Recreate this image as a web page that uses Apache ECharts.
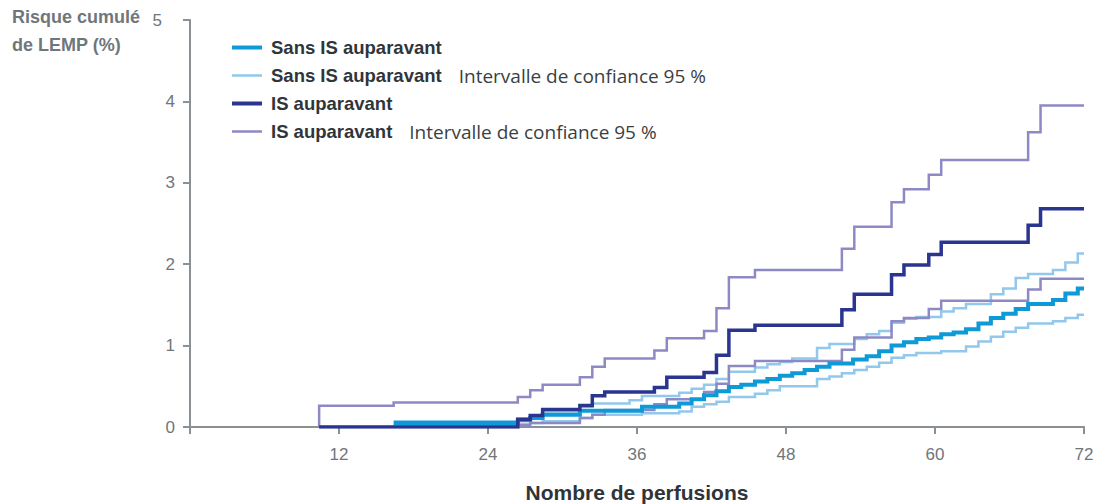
<!DOCTYPE html>
<html>
<head>
<meta charset="utf-8">
<script src="https://cdn.jsdelivr.net/npm/echarts@6/dist/echarts.min.js"></script>
<style>
html,body{margin:0;padding:0;background:#fff;}
#chart{width:1097px;height:504px;}
</style>
</head>
<body>
<div id="chart"></div>
<script>
// ---- data (x = nombre de perfusions, y = risque cumulé %) ----
const xTicks = [0, 12, 24, 36, 48, 60, 72];
const yTicks = [0, 1, 2, 3, 4, 5];

const legendNames = ['Sans IS auparavant', 'Sans IS auparavant IC', 'IS auparavant', 'IS auparavant IC'];
const legendMain = ['Sans IS auparavant', 'Sans IS auparavant', 'IS auparavant', 'IS auparavant'];
const legendExtra = ['', 'Intervalle de confiance 95 %', '', 'Intervalle de confiance 95 %'];

const sansIS = [[16.4,0.05],[26.4,0.085],[27.4,0.11],[28.4,0.15],[31.4,0.20],[36.4,0.25],[39.4,0.29],[40.4,0.34],[41.4,0.39],[42.4,0.44],[43.4,0.49],[44.4,0.52],[45.5,0.56],[46.5,0.59],[47.5,0.63],[48.5,0.66],[49.5,0.70],[50.5,0.74],[51.5,0.78],[53.4,0.83],[54.5,0.87],[55.5,0.93],[56.5,1.00],[57.5,1.04],[58.5,1.08],[59.5,1.10],[60.5,1.14],[61.5,1.16],[62.5,1.20],[63.5,1.27],[64.5,1.34],[65.5,1.39],[66.5,1.45],[67.5,1.51],[69.5,1.56],[70.5,1.64],[71.5,1.70],[72,1.70]];

const sansISUpper = [[16.4,0.07],[26.4,0.10],[27.4,0.13],[28.4,0.19],[31.4,0.25],[32.4,0.29],[35.4,0.33],[36.4,0.38],[39.4,0.42],[40.4,0.47],[41.4,0.52],[42.4,0.59],[43.4,0.68],[45.5,0.73],[46.5,0.77],[47.5,0.80],[48.5,0.84],[50.5,0.97],[51.5,1.02],[53.5,1.08],[54.5,1.14],[55.5,1.18],[56.5,1.28],[57.5,1.33],[58.5,1.35],[60.5,1.42],[61.5,1.46],[62.5,1.51],[64.5,1.63],[65.5,1.70],[66.5,1.83],[67.5,1.88],[69.5,1.93],[70.5,2.02],[71.5,2.13],[72,2.13]];

const sansISLower = [[16.4,0.02],[26.4,0.04],[27.4,0.05],[28.4,0.07],[31.4,0.11],[32.4,0.15],[36.4,0.17],[39.4,0.19],[40.4,0.25],[41.4,0.28],[42.4,0.31],[43.4,0.37],[45.5,0.41],[46.5,0.45],[47.5,0.50],[50.5,0.59],[51.5,0.62],[52.5,0.66],[53.5,0.70],[54.5,0.74],[55.5,0.79],[56.5,0.85],[57.5,0.88],[58.5,0.91],[60.5,0.93],[62.5,0.99],[63.5,1.05],[64.5,1.11],[65.5,1.17],[66.5,1.22],[67.5,1.27],[69.5,1.30],[70.5,1.34],[71.5,1.38],[72,1.38]];

const isMain = [[10.4,0],[26.4,0.095],[27.4,0.14],[28.4,0.215],[31.4,0.265],[32.4,0.385],[33.4,0.43],[37.4,0.485],[38.4,0.61],[41.4,0.67],[42.4,0.88],[43.4,1.19],[45.5,1.25],[52.5,1.44],[53.5,1.63],[56.5,1.87],[57.5,1.99],[59.5,2.12],[60.5,2.27],[67.5,2.48],[68.5,2.68],[72,2.68]];

const isUpper = [[10.4,0],[10.4,0.26],[16.4,0.30],[26.4,0.37],[27.4,0.45],[28.4,0.52],[31.4,0.61],[32.4,0.74],[33.4,0.84],[37.4,0.94],[38.4,1.09],[41.4,1.18],[42.4,1.46],[43.4,1.84],[45.5,1.93],[52.5,2.19],[53.5,2.46],[56.5,2.76],[57.5,2.92],[59.5,3.10],[60.5,3.28],[67.5,3.62],[68.5,3.95],[72,3.95]];

const isLower = [[10.4,0],[26.4,0.02],[27.4,0.05],[31.4,0.11],[32.4,0.15],[33.4,0.21],[37.4,0.28],[38.4,0.34],[41.4,0.43],[42.4,0.53],[43.4,0.75],[45.5,0.81],[52.5,0.95],[53.5,1.10],[56.5,1.30],[57.5,1.34],[59.5,1.45],[60.5,1.55],[67.5,1.69],[68.5,1.82],[72,1.82]];

// ---- styles ----
const C_CYAN = '#0d9ad6', C_LIGHT = '#92c8ec', C_NAVY = '#29358f', C_PURPLE = '#8d89c5';
const AXIS = '#8b9095', LABEL = '#6f767c';
const FONT = '"Liberation Sans", Arial, sans-serif';
const FONT2 = '"Open Sans", "Liberation Sans", Arial, sans-serif';
const ICON_THICK = 'path://M0,0H30V4H0Z';
const ICON_THIN = 'path://M0,0H30V2.5H0Z';

function stepSeries(name, data, color, width, z) {
  return {
    name: name, type: 'line', step: 'end', data: data,
    symbol: 'none', showSymbol: false, z: z,
    lineStyle: { color: color, width: width, cap: 'butt', join: 'miter' },
    itemStyle: { color: color },
    emphasis: { disabled: true }, animation: false
  };
}

const chart = echarts.init(document.getElementById('chart'), null, { renderer: 'svg' });
chart.setOption({
  backgroundColor: '#ffffff',
  animation: false,
  grid: { left: 190, right: 13, top: 20, bottom: 77, containLabel: false, outerBoundsMode: 'none' },
  xAxis: {
    type: 'value', min: xTicks[0], max: xTicks[xTicks.length - 1], interval: 12,
    name: 'Nombre de perfusions', nameLocation: 'middle', nameGap: 55,
    nameTextStyle: { fontFamily: FONT, fontSize: 21, fontWeight: 'bold', color: '#2f3439' },
    axisLine: { show: true, lineStyle: { color: AXIS, width: 2 } },
    axisTick: { show: true, length: 7, lineStyle: { color: AXIS, width: 2 } },
    axisLabel: { margin: 19, fontFamily: FONT, fontSize: 17, color: LABEL,
      formatter: v => (v === 0 ? '' : String(v)) },
    splitLine: { show: false }
  },
  yAxis: {
    type: 'value', min: yTicks[0], max: yTicks[yTicks.length - 1], interval: 1,
    axisLine: { show: true, lineStyle: { color: AXIS, width: 2 } },
    axisTick: { show: true, length: 7, lineStyle: { color: AXIS, width: 2 } },
    axisLabel: { margin: 15, fontFamily: FONT, fontSize: 17, color: LABEL,
      formatter: v => (v === 5 ? '{f|5}' : String(v)),
      rich: { f: { fontFamily: FONT, fontSize: 17, color: LABEL, padding: [0, 13, 0, 0] } } },
    splitLine: { show: false }
  },
  legend: {
    orient: 'vertical', left: 232, top: 38, padding: 0,
    itemWidth: 30, itemHeight: 18, itemGap: 9,
    data: [
      { name: legendNames[0], icon: ICON_THICK },
      { name: legendNames[1], icon: ICON_THIN },
      { name: legendNames[2], icon: ICON_THICK },
      { name: legendNames[3], icon: ICON_THIN }
    ],
    selectedMode: false,
    textStyle: { fontFamily: FONT, fontSize: 18, lineHeight: 18, color: '#30353a', padding: [0, 0, 0, 4],
      rich: {
        b: { fontFamily: FONT, fontSize: 18.5, lineHeight: 18, fontWeight: 'bold', color: '#30353a' },
        r: { fontFamily: FONT2, fontSize: 19, lineHeight: 18, color: '#3a3f44', padding: [0, 0, 0, 17] }
      }
    },
    formatter: function (name) {
      const i = legendNames.indexOf(name);
      return '{b|' + legendMain[i] + '}' + (legendExtra[i] ? '{r|' + legendExtra[i] + '}' : '');
    }
  },
  graphic: [{
    type: 'text', right: 957, top: 3,
    style: { text: 'Risque cumulé\nde LEMP (%)', fontFamily: FONT, fontSize: 18, fontWeight: 'bold',
      fill: LABEL, align: 'right', lineHeight: 28 }
  }],
  series: [
    stepSeries(legendNames[1], sansISUpper, C_LIGHT, 2.5, 2),
    stepSeries(legendNames[1], sansISLower, C_LIGHT, 2.5, 2),
    stepSeries(legendNames[3], isUpper, C_PURPLE, 2.5, 3),
    stepSeries(legendNames[3], isLower, C_PURPLE, 2.5, 3),
    stepSeries(legendNames[0], sansIS, C_CYAN, 4, 4),
    stepSeries(legendNames[2], isMain, C_NAVY, 3.5, 5)
  ]
});
</script>
</body>
</html>
